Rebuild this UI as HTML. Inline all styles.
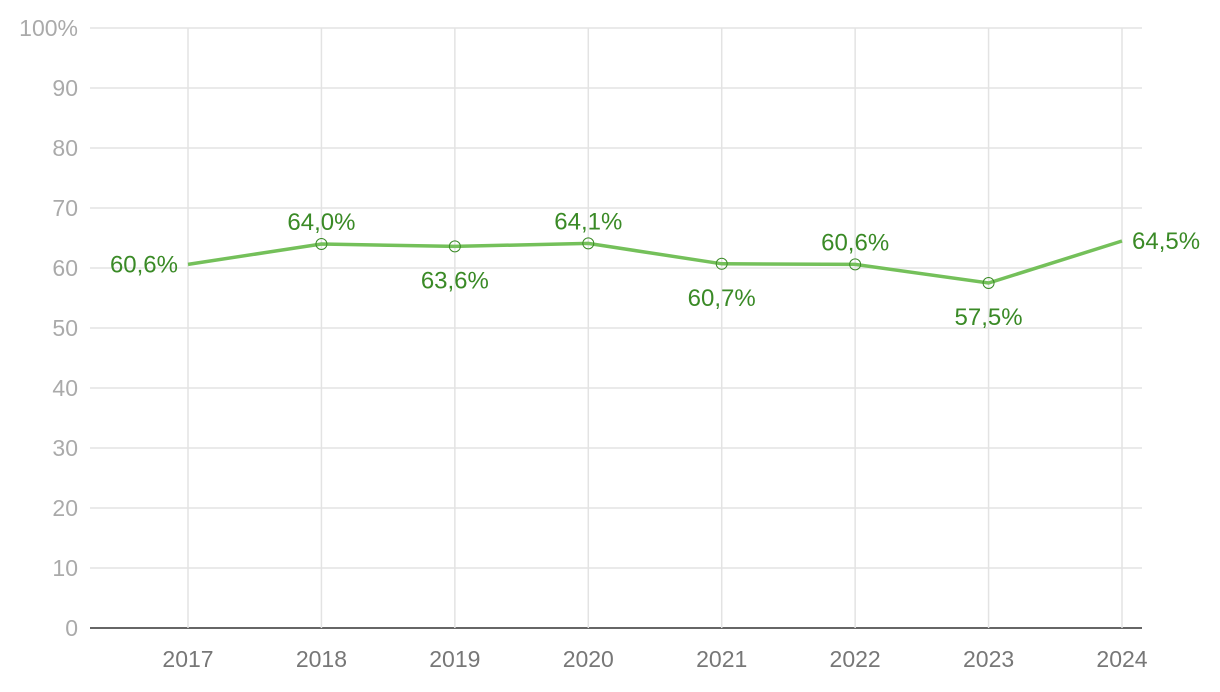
<!DOCTYPE html>
<html><head><meta charset="utf-8"><style>
body{margin:0;background:#fff;}
svg{display:block;font-family:"Liberation Sans",sans-serif;}
</style></head><body>
<svg id="chart" width="1220" height="692" viewBox="0 0 1220 692"></svg>
<script>
const years=["2017","2018","2019","2020","2021","2022","2023","2024"];
const values=[60.6,64.0,63.6,64.1,60.7,60.6,57.5,64.5];
const valueLabels=["60,6%","64,0%","63,6%","64,1%","60,7%","60,6%","57,5%","64,5%"];
const labelPos=["left","above","below","above","below","above","below","right"];
const yTicks=[0,10,20,30,40,50,60,70,80,90,100];
const svg=document.getElementById('chart');
const NS='http://www.w3.org/2000/svg';
const x0=90,x1=1142,y0=628,y1=28;
const xs=i=>188+i*(1122-188)/(years.length-1);
const ys=v=>y0-(v/100)*(y0-y1);
function mk(t,a,p){const e=document.createElementNS(NS,t);for(const k in a)e.setAttribute(k,a[k]);(p||svg).appendChild(e);return e;}
yTicks.forEach(t=>{
 const g=mk('line',{x1:x0,x2:x1,y1:ys(t),y2:ys(t),stroke:t===0?'#333':'#e3e3e3','stroke-width':t===0?1.5:1.5});
 
 
 const l=mk('text',{x:78,y:ys(t)+8,'text-anchor':'end','font-size':23,fill:'#aaa'});
 l.textContent=t===100?'100%':t;
 
 
});
years.forEach((y,i)=>{
 const g=mk('line',{x1:xs(i),x2:xs(i),y1:y1,y2:y0,stroke:'#e3e3e3','stroke-width':1.5});
 
 
 const l=mk('text',{x:xs(i),y:667,'text-anchor':'middle','font-size':23,fill:'#777'});
 l.textContent=y;
 
 
});
const line=mk('polyline',{points:values.map((v,i)=>xs(i)+','+ys(v)).join(' '),fill:'none',stroke:'#74c05a','stroke-width':3.5});


values.forEach((v,i)=>{
 const cx=xs(i),cy=ys(v);
 if(i>0&&i<values.length-1){
  const c=mk('circle',{cx:cx,cy:cy,r:5.5,fill:'none',stroke:'#3a8a26','stroke-width':1});
  
  
 }
 let tx=cx,ty=cy,anc='middle';
 if(labelPos[i]==='above')ty=cy-14;
 else if(labelPos[i]==='below')ty=cy+42;
 else if(labelPos[i]==='left'){tx=cx-10;ty=cy+8;anc='end';}
 else {tx=cx+10;ty=cy+8;anc='start';}
 const t=mk('text',{x:tx,y:ty,'text-anchor':anc,'font-size':24,fill:'#3a8a26'});
 t.textContent=valueLabels[i];
 
 
});
</script>
</body></html>
